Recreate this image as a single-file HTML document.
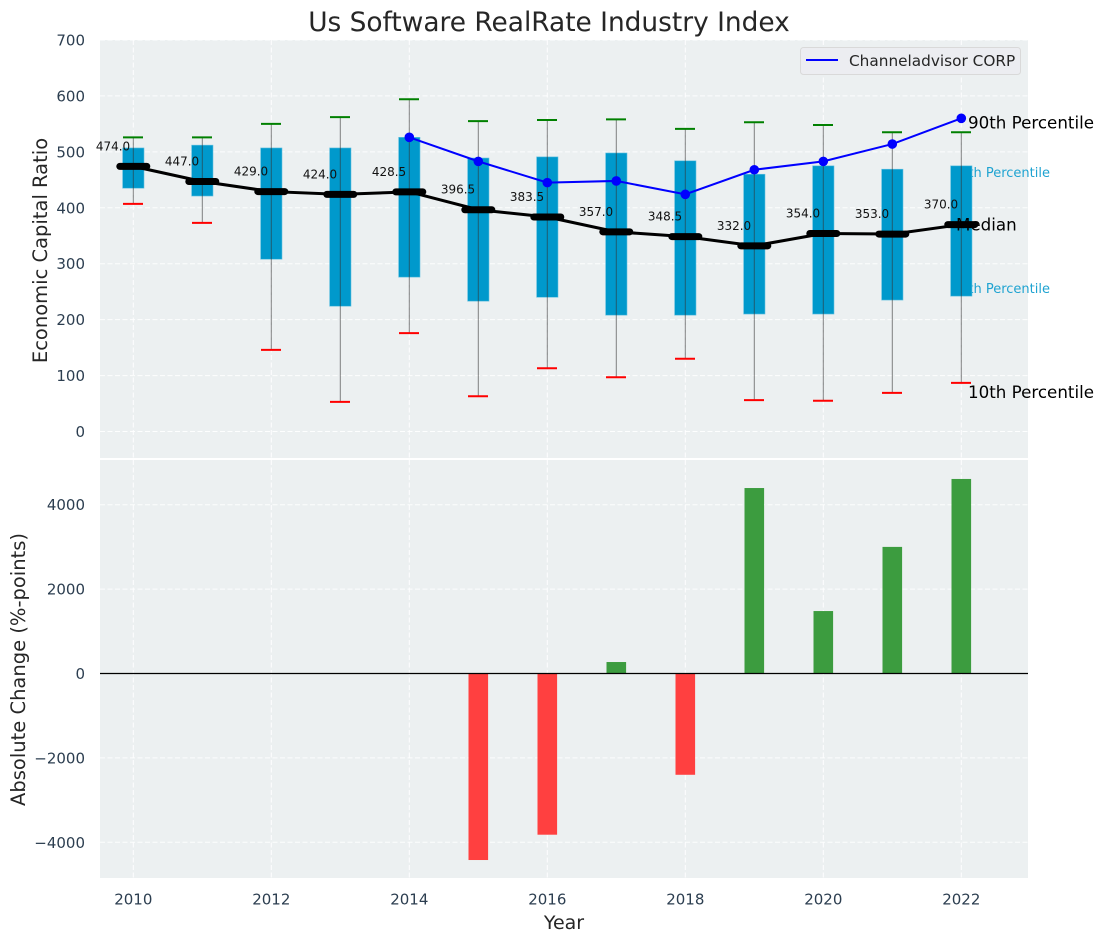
<!DOCTYPE html>
<html lang="en">
<head>
<meta charset="utf-8">
<title>Us Software RealRate Industry Index</title>
<style>
html,body{margin:0;padding:0;background:#fff;}
svg{display:block;font-family:"DejaVu Sans","Liberation Sans",sans-serif;}
</style>
</head>
<body>
<svg id="chart" xmlns="http://www.w3.org/2000/svg" width="1103" height="942" viewBox="0 0 1103 942">
  <text x="549" y="31" font-size="26.4" text-anchor="middle" fill="#262626">Us Software RealRate Industry Index</text>
  <rect x="100" y="40" width="928" height="418" fill="#ecf0f1"/>
  <rect x="100" y="460" width="928" height="418" fill="#ecf0f1"/>
  <g id="grid"></g>
  <g id="refLabels"></g>
  <g id="boxes"></g>
  <g id="medianLine"></g>
  <g id="companyLine"></g>
  <g id="topLabels"></g>
  <g id="bars"></g>
  <g id="ticks"></g>
  <text transform="translate(47 250.5) rotate(-90)" font-size="19.5" text-anchor="middle" fill="#262626">Economic Capital Ratio</text>
  <text transform="translate(25 669.5) rotate(-90)" font-size="19.5" text-anchor="middle" fill="#262626">Absolute Change (%-points)</text>
  <text x="564" y="929" font-size="19" text-anchor="middle" fill="#262626">Year</text>
  <g>
    <rect x="800.5" y="47.5" width="220" height="27" rx="3" fill="#ecedf1" stroke="#d9d9d9"/>
    <line x1="806" x2="838" y1="60" y2="60" stroke="#0000ff" stroke-width="2"/>
    <text x="849" y="66" font-size="15.3" fill="#262626">Channeladvisor CORP</text>
  </g>
</svg>
<script>
const years = [2010,2011,2012,2013,2014,2015,2016,2017,2018,2019,2020,2021,2022];
const p90 = [526,526,550,562,594,555,557,558,541,553,548,535,535];
const p75 = [507,512,507,507,526,489,491,498,484,460,475,469,475];
const median = [474,447,429,424,428.5,396.5,383.5,357,348.5,332,354,353,370];
const p25 = [435,421,308,224,276,233,240,208,208,210,210,235,242];
const p10 = [407,373,146,53,176,63,113,97,130,56,55,69,87];
const companyYears = [2014,2015,2016,2017,2018,2019,2020,2021,2022];
const companyValues = [526,483,445,448,424,468,483,514,560];
const changeYears = [2015,2016,2017,2018,2019,2020,2021,2022];
const changeValues = [-4420,-3820,272,-2400,4395,1480,3000,4610];
const xTickLabels = [2010,2012,2014,2016,2018,2020,2022];
const ratioTickLabels = [0,100,200,300,400,500,600,700];
const changeTickLabels = [-4000,-2000,0,2000,4000];

function xScale(y){return 133.3+(y-2010)*69;}
function yTop(v){return 431.5-v*0.55929;}
function yBot(v){return 673.5-v*0.0422;}
const NS='http://www.w3.org/2000/svg';
function add(parent,tag,props,txt){
  const el=document.createElementNS(NS,tag);
  for(const k in props)el.setAttribute(k,props[k]);
  if(txt!==undefined)el.textContent=txt;
  document.getElementById(parent).appendChild(el);
  return el;
}
let el;
const gridStyle={stroke:'#ffffff','stroke-width':1,'stroke-dasharray':'5 2.5','stroke-opacity':0.9};
xTickLabels.forEach(function(y){
  el=add('grid','line',Object.assign({x1:xScale(y),x2:xScale(y),y1:40,y2:458},gridStyle));
  
  
  el=add('grid','line',Object.assign({x1:xScale(y),x2:xScale(y),y1:460,y2:878},gridStyle));
  
  
  el=add('ticks','text',{x:xScale(y),y:904.5,'font-size':15,'text-anchor':'middle',fill:'#2c3e50'},String(y));
  
  
});
ratioTickLabels.forEach(function(v){
  el=add('grid','line',Object.assign({x1:100,x2:1028,y1:yTop(v),y2:yTop(v)},gridStyle));
  
  
  el=add('ticks','text',{x:85,y:yTop(v)+5.5,'font-size':15,'text-anchor':'end',fill:'#2c3e50'},String(v));
  
  
});
changeTickLabels.forEach(function(v){
  el=add('grid','line',Object.assign({x1:100,x2:1028,y1:yBot(v),y2:yBot(v)},gridStyle));
  
  
  el=add('ticks','text',{x:85,y:yBot(v)+5.5,'font-size':15,'text-anchor':'end',fill:'#2c3e50'},String(v).replace('-','\u2212'));
  
  
});

const lastX=xScale(years[years.length-1]);
el=add('refLabels','text',{x:1050,y:yTop(p75[12])+11,'font-size':13,'text-anchor':'end',fill:'#1fa3d1'},'75th Percentile');


el=add('refLabels','text',{x:1050,y:yTop(p25[12])-3,'font-size':13,'text-anchor':'end',fill:'#1fa3d1'},'25th Percentile');



years.forEach(function(y,i){
  const x=xScale(y);
  el=add('boxes','rect',{x:x-10.7,y:yTop(p75[i]),width:21.4,height:yTop(p25[i])-yTop(p75[i]),fill:'#0099cc',stroke:'#66c2e0','stroke-width':0.6});
  
  
  el=add('boxes','line',{x1:x,x2:x,y1:yTop(p90[i]),y2:yTop(p10[i]),stroke:'#333333','stroke-width':1,'stroke-opacity':0.6});
  
  
  el=add('boxes','line',{x1:x-10.3,x2:x+9.7,y1:yTop(p90[i]),y2:yTop(p90[i]),stroke:'#008000','stroke-width':2});
  
  
  el=add('boxes','line',{x1:x-10.3,x2:x+9.7,y1:yTop(p10[i]),y2:yTop(p10[i]),stroke:'#ff0000','stroke-width':2});
  
  
});

el=add('medianLine','polyline',{points:years.map(function(y,i){return xScale(y)+','+yTop(median[i]);}).join(' '),fill:'none',stroke:'#000','stroke-width':3});


years.forEach(function(y,i){
  const x=xScale(y),m=yTop(median[i]);
  el=add('medianLine','line',{x1:x-13.5,x2:x+13.5,y1:m,y2:m,stroke:'#000','stroke-width':7,'stroke-linecap':'round'});
  
  
  el=add('medianLine','text',{x:x-20.3,y:m-16,'font-size':12,'text-anchor':'middle',fill:'#111'},median[i].toFixed(1));
  
  
});

el=add('companyLine','polyline',{points:companyYears.map(function(y,i){return xScale(y)+','+yTop(companyValues[i]);}).join(' '),fill:'none',stroke:'#0000ff','stroke-width':2});


companyYears.forEach(function(y,i){
  el=add('companyLine','circle',{cx:xScale(y),cy:yTop(companyValues[i]),r:4.8,fill:'#0000ff'});
  
  
});

el=add('topLabels','text',{x:lastX+6.7,y:yTop(companyValues[8])+10,'font-size':16.7,fill:'#000'},'90th Percentile');


el=add('topLabels','text',{x:lastX-5.3,y:yTop(median[12])+6,'font-size':16.7,fill:'#000'},'Median');


el=add('topLabels','text',{x:lastX+6.7,y:yTop(p10[12])+15,'font-size':16.7,fill:'#000'},'10th Percentile');



changeYears.forEach(function(y,i){
  const v=changeValues[i],top=Math.min(yBot(v),yBot(0)),h=Math.abs(yBot(v)-yBot(0));
  el=add('bars','rect',{x:xScale(y)-9.8,y:top,width:19.6,height:h,fill:v<0?'#ff4040':'#3c9c3f'});
  
  
});
el=add('bars','line',{x1:100,x2:1028,y1:yBot(0),y2:yBot(0),stroke:'#000','stroke-width':1.2});


</script>
</body>
</html>
